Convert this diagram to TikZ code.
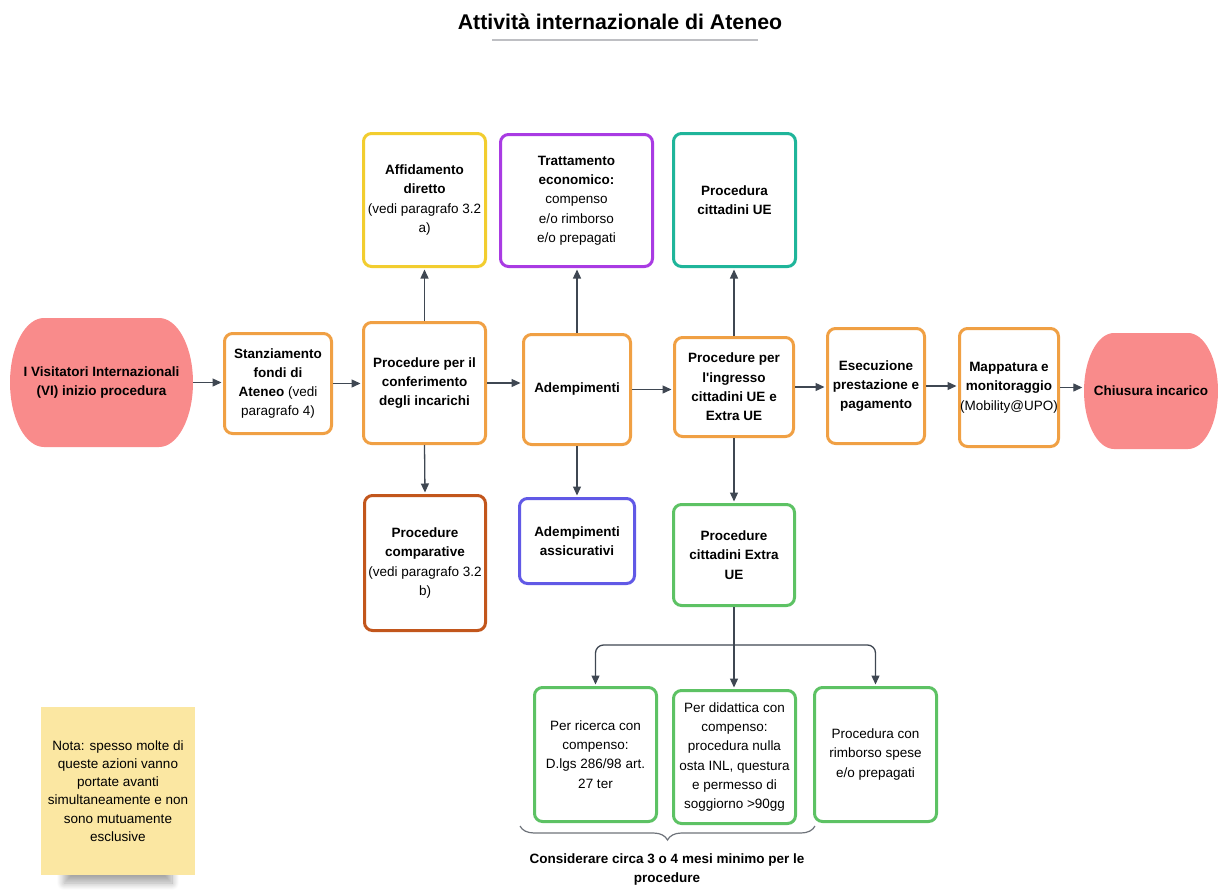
\documentclass[tikz,border=0pt]{standalone}
\usepackage{fontspec}
\setmainfont{Liberation Sans}
\usetikzlibrary{arrows.meta,decorations.pathreplacing,shadows.blur}

\definecolor{edge}{HTML}{3F4752}
\definecolor{cOrange}{HTML}{F0A044}
\definecolor{cYellow}{HTML}{F2CD2F}
\definecolor{cPurple}{HTML}{A93BE3}
\definecolor{cTeal}{HTML}{1FB59A}
\definecolor{cBrown}{HTML}{C2561C}
\definecolor{cBlue}{HTML}{6159E6}
\definecolor{cGreen}{HTML}{5DC264}
\definecolor{cRed}{HTML}{F98B8B}
\definecolor{cNote}{HTML}{FBE7A2}
\definecolor{cRule}{HTML}{BEBFC3}
\definecolor{cBrace}{HTML}{6E737A}

\tikzset{
  box/.style={draw=#1, line width=3pt, rounded corners=8pt, fill=white,
    align=center, inner sep=0pt, font=\fontsize{13.5}{19.3}\selectfont},
  sz/.style 2 args={minimum width=#1pt, minimum height=#2pt},
  % terminal: flat top and bottom, half-ellipse ends (end radius, half height)
  endcap/.style 2 args={rectangle, draw=none, align=center, inner sep=0pt,
    font=\bfseries\fontsize{13.5}{19.3}\selectfont,
    path picture={\fill[cRed]
      ([xshift=#1]path picture bounding box.north west)
      -- ([xshift=-#1]path picture bounding box.north east)
      arc[start angle=90, end angle=-90, x radius=#1, y radius=#2]
      -- ([xshift=#1]path picture bounding box.south west)
      arc[start angle=270, end angle=90, x radius=#1, y radius=#2] -- cycle;}},
  arrow/.style={draw=edge, line width=1.3pt, shorten >=1.5pt,
    -{Triangle[length=9pt,width=8pt]}},
  link/.style={draw=edge, line width=1.3pt},
  note/.style={fill=cNote, draw=none, align=center, inner sep=0pt,
    font=\fontsize{13.5}{18.2}\selectfont},
  noteshadow/.style={blur shadow={shadow xshift=0pt, shadow yshift=-13pt,
    shadow opacity=35, shadow blur radius=7pt, shadow blur steps=12}},
}

\begin{document}
\begin{tikzpicture}[x=1pt,y=-1pt]
\useasboundingbox (0,0) rectangle (1218,891);

% title
\node[font=\bfseries\fontsize{21.3}{25}\selectfont] (title) at (620,22)
  {Attività internazionale di Ateneo};
\draw[cRule, line width=2pt] (492,40) -- (758,40);

% main row
\node[endcap={34pt}{64.5pt}, minimum width=183pt, minimum height=129pt] (start) at (101.5,382.5)
  {I Visitatori Internazionali\\(VI) inizio procedura};
\node[box=cOrange, sz={107}{100}] (stanz) at (278,383.5)
  {\textbf{Stanziamento}\\\textbf{fondi di}\\\textbf{Ateneo} (vedi\\paragrafo 4)};
\node[box=cOrange, sz={122}{121}] (conf) at (424.5,383)
  {\textbf{Procedure per il}\\\textbf{conferimento}\\\textbf{degli incarichi}};
\node[box=cOrange, sz={107}{110}] (adem) at (577,389.5)
  {\textbf{Adempimenti}};
\node[box=cOrange, sz={119}{99}] (ingr) at (734,387)
  {\textbf{Procedure per}\\\textbf{l\textquotesingle ingresso}\\\textbf{cittadini UE e}\\\textbf{Extra UE}};
\node[box=cOrange, sz={97}{115}] (esec) at (876,386)
  {\textbf{Esecuzione}\\\textbf{prestazione e}\\\textbf{pagamento}};
\node[box=cOrange, sz={99}{118}] (mapp) at (1009,387.5)
  {\textbf{Mappatura e}\\\textbf{monitoraggio}\\(Mobility@UPO)};
\node[endcap={30pt}{58pt}, minimum width=134pt, minimum height=116pt] (chius) at (1151,391)
  {Chiusura incarico};

% upper row
\node[box=cYellow, sz={122}{133}] (affid) at (424.5,200)
  {\textbf{Affidamento}\\\textbf{diretto}\\(vedi paragrafo 3.2\\a)};
\node[box=cPurple, sz={152}{132}] (tratt) at (576.5,200.5)
  {\textbf{Trattamento}\\\textbf{economico:}\\compenso\\e/o rimborso\\e/o prepagati};
\node[box=cTeal, sz={122}{133}] (citue) at (734.5,200)
  {\textbf{Procedura}\\\textbf{cittadini UE}};

% lower row
\node[box=cBrown, sz={121}{135}] (comp) at (425,563)
  {\textbf{Procedure}\\\textbf{comparative}\\(vedi paragrafo 3.2\\b)};
\node[box=cBlue, sz={115}{85}] (assic) at (577,541)
  {\textbf{Adempimenti}\\\textbf{assicurativi}};
\node[box=cGreen, sz={121}{101}] (extra) at (734,555)
  {\textbf{Procedure}\\\textbf{cittadini Extra}\\\textbf{UE}};

% Extra UE procedures
\node[box=cGreen, sz={122}{134}] (ric) at (595.5,754.5)
  {Per ricerca con\\compenso:\\D.lgs 286/98 art.\\27 ter};
\node[box=cGreen, sz={122}{133}] (did) at (734.5,757)
  {Per didattica con\\compenso:\\procedura nulla\\osta INL, questura\\e permesso di\\soggiorno >90gg};
\node[box=cGreen, sz={122}{134}] (rimb) at (875.5,754.5)
  {Procedura con\\rimborso spese\\e/o prepagati};

% note with its soft shadow underneath
\path[noteshadow] (64,770) rectangle (172,870);
\node[note, minimum width=154pt, minimum height=168pt] (nota) at (118,791)
  {Nota: spesso molte di\\queste azioni vanno\\portate avanti\\simultaneamente e non\\sono mutuamente\\esclusive};

% horizontal flow
\draw[arrow] (start.east) -- (start.east -| stanz.west);
\draw[arrow] (stanz.east) -- (stanz.east -| conf.west);
\draw[arrow] (conf.east) -- (conf.east -| adem.west);
\draw[arrow] (adem.east) -- (adem.east -| ingr.west);
\draw[arrow] (ingr.east) -- (ingr.east -| esec.west);
\draw[arrow] (esec.east) -- (esec.east -| mapp.west);
\draw[arrow] (mapp.east) -- (mapp.east -| chius.west);

% vertical branches
\draw[arrow] (conf.north) -- (affid.south);
\draw[arrow] (conf.south) -- (comp.north);
\draw[arrow] (adem.north) -- (adem.north |- tratt.south);
\draw[arrow] (adem.south) -- (adem.south |- assic.north);
\draw[arrow] (ingr.north) -- (ingr.north |- citue.south);
\draw[arrow] (ingr.south) -- (extra.north);

% split towards the three Extra UE procedures
\coordinate (split) at (734,645);
\draw[link] (extra.south) -- (split);
\draw[arrow, rounded corners=8pt] (split) -| (ric.north);
\draw[arrow, rounded corners=8pt] (split) -| (rimb.north);
\draw[arrow] (split) -- (split |- did.north);

% brace and timing remark
\draw[cBrace, line width=1.2pt, decorate,
  decoration={brace, mirror, amplitude=14pt}] (520,826) -- (815,826);
\node[font=\bfseries\fontsize{13.5}{19}\selectfont, align=center] (tempi) at (667,869)
  {Considerare circa 3 o 4 mesi minimo per le\\procedure};
\end{tikzpicture}
\end{document}
